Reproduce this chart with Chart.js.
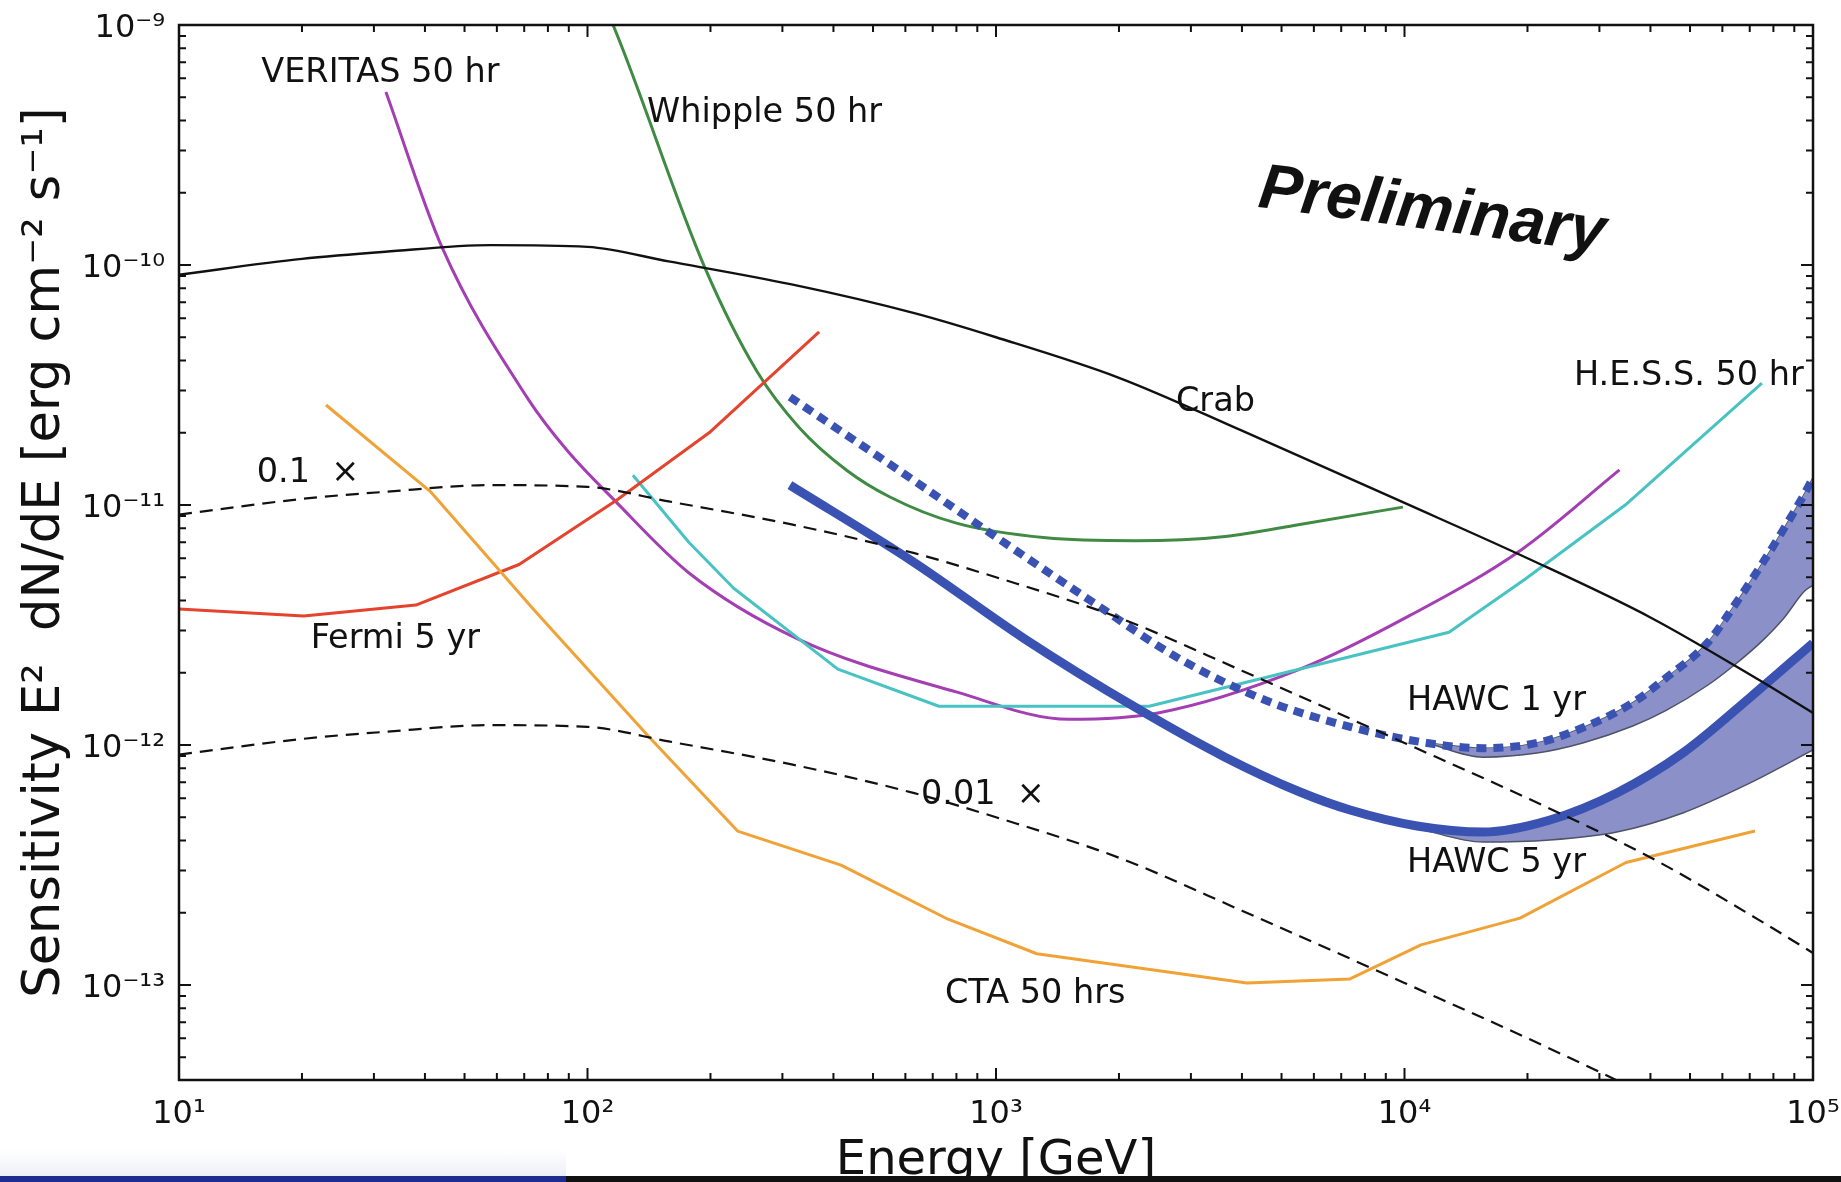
<!DOCTYPE html>
<html>
<head>
<meta charset="utf-8">
<title>HAWC sensitivity</title>
<script src="https://cdn.jsdelivr.net/npm/chart.js@4.4.1/dist/chart.umd.min.js"></script>
<style>
  html, body { margin: 0; padding: 0; background: #fff; overflow: hidden; }
  #wrap { position: relative; width: 1841px; height: 1182px; }
  #fade { position: absolute; left: 0; top: 1150px; width: 566px; height: 26px; background: linear-gradient(#fff, #eef0f7); }
  #barLeft { position: absolute; left: 0; top: 1176px; width: 566px; height: 6px; background: #1c2d8f; }
  #barRight { position: absolute; left: 566px; top: 1176px; width: 1275px; height: 6px; background: #111; }
</style>
</head>
<body>
<div id="wrap">
  <canvas id="sens" width="1841" height="1182"></canvas>
  <div id="fade"></div>
  <div id="barLeft"></div>
  <div id="barRight"></div>
</div>
<script>
// axis decades (powers of ten) and minor steps
const xDecades = [1, 2, 3, 4, 5];
const yDecades = [-14, -13, -12, -11, -10, -9];
const minorSteps = [1, 2, 3, 4, 5, 6, 7, 8, 9];

// Crab and the scaled crab curves (energy in GeV, E^2 dN/dE in erg cm^-2 s^-1)
const crabE = [10, 20, 32, 58, 100, 158, 316, 631, 1000, 2000, 4000, 10000, 20000, 40000, 74000, 100000];
const crabS = [9.12e-11, 1.06e-10, 1.135e-10, 1.21e-10, 1.19e-10, 1.035e-10, 8.3e-11, 6.3e-11, 5.0e-11, 3.39e-11, 2.04e-11, 1.02e-11, 6.0e-12, 3.4e-12, 1.86e-12, 1.36e-12];
const tenthS = [9.12e-12, 1.06e-11, 1.135e-11, 1.21e-11, 1.19e-11, 1.035e-11, 8.3e-12, 6.3e-12, 5.0e-12, 3.39e-12, 2.04e-12, 1.02e-12, 6.0e-13, 3.4e-13, 1.86e-13, 1.36e-13];
const hundredthS = [9.12e-13, 1.06e-12, 1.135e-12, 1.21e-12, 1.19e-12, 1.035e-12, 8.3e-13, 6.3e-13, 5.0e-13, 3.39e-13, 2.04e-13, 1.02e-13, 6.0e-14, 3.4e-14, 1.86e-14, 1.36e-14];

// Whipple 50 hr
const whippleE = [112, 115.5, 194, 260, 330, 430, 550, 800, 1325, 2200, 3640, 5540, 9910];
const whippleS = [1.12e-9, 1.0e-9, 9.7e-11, 3.6e-11, 2.1e-11, 1.4e-11, 1.08e-11, 8.4e-12, 7.3e-12, 7.1e-12, 7.4e-12, 8.3e-12, 9.8e-12];

// VERITAS 50 hr
const veritasE = [32.1, 44, 71.5, 89.1, 116.8, 177.2, 323.9, 802.7, 1509, 2493, 5549, 10260, 19300, 33600];
const veritasS = [5.26e-10, 1.19e-10, 2.77e-11, 1.69e-11, 1.04e-11, 5.21e-12, 2.79e-12, 1.66e-12, 1.28e-12, 1.36e-12, 2.07e-12, 3.45e-12, 6.5e-12, 1.40e-11];

// H.E.S.S. 50 hr
const hessE = [129.2, 177, 228, 410, 725, 2370, 12850, 19800, 34700, 75000];
const hessS = [1.33e-11, 7.0e-12, 4.5e-12, 2.07e-12, 1.45e-12, 1.45e-12, 2.95e-12, 4.93e-12, 1.0e-11, 3.22e-11];

// Fermi 5 yr
const fermiE = [10, 20.2, 38, 68, 118, 200, 369];
const fermiS = [3.69e-12, 3.45e-12, 3.83e-12, 5.65e-12, 1.05e-11, 2.02e-11, 5.26e-11];

// CTA 50 hrs
const ctaE = [22.9, 41.2, 74, 141.5, 233, 417.5, 763, 1259, 4113, 7355, 10976, 19180, 34850, 72100];
const ctaS = [2.61e-11, 1.14e-11, 3.65e-12, 1.08e-12, 4.38e-13, 3.16e-13, 1.88e-13, 1.35e-13, 1.02e-13, 1.06e-13, 1.47e-13, 1.9e-13, 3.24e-13, 4.38e-13];

// HAWC 1 yr (dashed) and its band
const hawc1E = [313, 623, 1034, 1709, 2821, 4554, 7355, 11350, 15560, 21100, 27300, 36200, 43600, 55100, 64100, 75000, 84500, 95500, 100000];
const hawc1S = [2.82e-11, 1.28e-11, 7.08e-12, 3.98e-12, 2.28e-12, 1.54e-12, 1.19e-12, 1.02e-12, 9.7e-13, 1.02e-12, 1.18e-12, 1.5e-12, 1.9e-12, 2.66e-12, 3.8e-12, 5.68e-12, 7.87e-12, 1.12e-11, 1.3e-11];
const hawc1BandE = [11350, 15560, 21100, 27300, 36200, 43600, 55100, 64100, 75000, 84500, 95500, 100000];
const hawc1BandHigh = [1.02e-12, 9.7e-13, 1.02e-12, 1.18e-12, 1.5e-12, 1.9e-12, 2.66e-12, 3.8e-12, 5.68e-12, 7.87e-12, 1.12e-11, 1.3e-11];
const hawc1BandLow = [1.02e-12, 8.9e-13, 9.26e-13, 1.02e-12, 1.2e-12, 1.39e-12, 1.77e-12, 2.15e-12, 2.71e-12, 3.35e-12, 4.39e-12, 4.64e-12];

// HAWC 5 yr (solid) and its band
const hawc5E = [313, 625, 1171, 2201, 3636, 5549, 7360, 10730, 15560, 22700, 33100, 48000, 70200, 100000];
const hawc5S = [1.21e-11, 5.82e-12, 2.78e-12, 1.43e-12, 8.9e-13, 6.37e-13, 5.36e-13, 4.6e-13, 4.34e-13, 4.87e-13, 6.31e-13, 9.26e-13, 1.58e-12, 2.66e-12];
const hawc5BandE = [10730, 15560, 22700, 33100, 48000, 70200, 100000];
const hawc5BandHigh = [4.6e-13, 4.34e-13, 4.87e-13, 6.31e-13, 9.26e-13, 1.58e-12, 2.66e-12];
const hawc5BandLow = [4.5e-13, 3.94e-13, 4.02e-13, 4.34e-13, 5.21e-13, 6.95e-13, 9.53e-13];

// text annotations, anchored at (energy, sensitivity) = left end of the baseline
const noteTexts = ['VERITAS 50 hr', 'Whipple 50 hr', 'Crab', 'H.E.S.S. 50 hr', '0.1  ×', 'Fermi 5 yr', 'HAWC 1 yr', 'HAWC 5 yr', '0.01  ×', 'CTA 50 hrs'];
const noteE = [15.9, 139.9, 2758, 26000, 15.5, 21.0, 10140, 10140, 655, 750];
const noteS = [5.79e-10, 3.94e-10, 2.47e-11, 3.16e-11, 1.25e-11, 2.54e-12, 1.40e-12, 2.96e-13, 5.68e-13, 8.4e-14];

const SUP = { '-': '⁻', '0': '⁰', '1': '¹', '2': '²', '3': '³', '4': '⁴', '5': '⁵', '6': '⁶', '7': '⁷', '8': '⁸', '9': '⁹' };

function decadeOf(v) {
    const e = Math.log10(v);
    const r = Math.round(e);
    return Math.abs(e - r) < 1e-6 ? r : null;
}

function powerLabel(v) {
    const e = decadeOf(v);
    if (e === null) return '';
    return '10' + String(e).split('').map(c => SUP[c]).join('');
}

function logTicks(decades, lo, hi) {
    const out = [];
    decades.forEach(d => minorSteps.forEach(m => {
        const v = m * Math.pow(10, d);
        if (v >= lo * 0.999 && v <= hi * 1.001) out.push({ value: v });
    }));
    return out;
}

function points(xs, ys) {
    return xs.map((x, i) => ({ x: x, y: ys[i] }));
}

/** one line dataset, smooth curves use monotone interpolation in log-log pixel space */
function curve(label, xs, ys, color, width, order, extra) {
    return Object.assign({
        label: label,
        data: points(xs, ys),
        borderColor: color,
        borderWidth: width,
        pointRadius: 0,
        fill: false,
        tension: 0,
        order: order,
        borderJoinStyle: 'round'
    }, extra || {});
}

const smooth = { cubicInterpolationMode: 'monotone' };
const bandFill = '#8b90c8';
const bandEdge = '#4e5366';
const hawcBlue = '#3a52b2';

const datasets = [
    curve('HAWC 1 yr band top', hawc1BandE, hawc1BandHigh, bandEdge, 1.5, 30, smooth),
    curve('HAWC 1 yr band', hawc1BandE, hawc1BandLow, bandEdge, 1.5, 29, Object.assign({ fill: '-1', backgroundColor: bandFill }, smooth)),
    curve('HAWC 5 yr band top', hawc5BandE, hawc5BandHigh, 'rgba(0,0,0,0)', 1, 28, smooth),
    curve('HAWC 5 yr band', hawc5BandE, hawc5BandLow, bandEdge, 1.5, 27, Object.assign({ fill: '-1', backgroundColor: bandFill }, smooth)),
    curve('Whipple 50 hr', whippleE, whippleS, '#3f8b43', 3, 20, smooth),
    curve('VERITAS 50 hr', veritasE, veritasS, '#a33eb3', 3, 19, smooth),
    curve('H.E.S.S. 50 hr', hessE, hessS, '#48c2c2', 3, 18),
    curve('Fermi 5 yr', fermiE, fermiS, '#e4432d', 3, 17),
    curve('CTA 50 hrs', ctaE, ctaS, '#f0a236', 3, 16),
    curve('HAWC 1 yr', hawc1E, hawc1S, hawcBlue, 8, 10, Object.assign({ borderDash: [10, 7], borderCapStyle: 'butt' }, smooth)),
    curve('HAWC 5 yr', hawc5E, hawc5S, hawcBlue, 9, 9, smooth),
    curve('0.01 x Crab', crabE, hundredthS, '#111', 2.2, 3, Object.assign({ borderDash: [13, 8] }, smooth)),
    curve('0.1 x Crab', crabE, tenthS, '#111', 2.2, 2, Object.assign({ borderDash: [13, 8] }, smooth)),
    curve('Crab', crabE, crabS, '#111', 2.4, 1, smooth)
];

/** frame on all four sides, inward matplotlib-style ticks, and the text notes */
const framePlugin = {
    id: 'frame',
    afterDatasetsDraw(chart) {
        const { ctx, chartArea: a, scales: { x, y } } = chart;
        ctx.save();
        ctx.strokeStyle = '#111';
        ctx.lineWidth = 2;
        ctx.beginPath();
        x.ticks.forEach(t => {
            const px = x.getPixelForValue(t.value);
            const len = decadeOf(t.value) === null ? 7 : 12;
            ctx.moveTo(px, a.bottom); ctx.lineTo(px, a.bottom - len);
            ctx.moveTo(px, a.top); ctx.lineTo(px, a.top + len);
        });
        y.ticks.forEach(t => {
            const py = y.getPixelForValue(t.value);
            const len = decadeOf(t.value) === null ? 7 : 12;
            ctx.moveTo(a.left, py); ctx.lineTo(a.left + len, py);
            ctx.moveTo(a.right, py); ctx.lineTo(a.right - len, py);
        });
        ctx.stroke();
        ctx.lineWidth = 2.5;
        ctx.strokeRect(a.left, a.top, a.right - a.left, a.bottom - a.top);

        ctx.fillStyle = '#111';
        ctx.font = '33.5px "DejaVu Sans"';
        ctx.textAlign = 'left';
        ctx.textBaseline = 'alphabetic';
        noteTexts.forEach((txt, i) => {
            ctx.fillText(txt, x.getPixelForValue(noteE[i]), y.getPixelForValue(noteS[i]));
        });

        // "Preliminary" stamp
        ctx.translate(x.getPixelForValue(4355), y.getPixelForValue(1.75e-10));
        ctx.rotate(7.5 * Math.PI / 180);
        ctx.font = 'italic bold 64px "Liberation Sans"';
        ctx.fillText('Preliminary', 0, 0);
        ctx.restore();
    }
};

Chart.defaults.font.family = '"DejaVu Sans"';
Chart.defaults.color = '#111';

// invisible tick marks only give the label offset, the real ticks come from framePlugin
const hiddenGrid = (len) => ({ display: true, drawOnChartArea: false, drawTicks: true, tickLength: len, color: 'rgba(0,0,0,0)' });

new Chart(document.getElementById('sens'), {
    type: 'line',
    data: { datasets: datasets },
    options: {
        responsive: false,
        animation: false,
        events: [],
        layout: { padding: { top: 25, right: 28, bottom: 0, left: 0 } },
        plugins: { legend: { display: false }, tooltip: { enabled: false } },
        scales: {
            x: {
                type: 'logarithmic',
                min: 10,
                max: 1e5,
                grid: hiddenGrid(15),
                border: { display: false },
                afterBuildTicks: s => { s.ticks = logTicks(xDecades, 10, 1e5); },
                afterFit: s => { s.height = 102; },
                ticks: {
                    autoSkip: false,
                    maxRotation: 0,
                    minRotation: 0,
                    padding: 0,
                    color: '#111',
                    font: { size: 32 },
                    callback: v => powerLabel(v)
                },
                title: {
                    display: true,
                    text: 'Energy [GeV]',
                    color: '#111',
                    font: { size: 48 },
                    padding: { top: 0, bottom: -8 }
                }
            },
            y: {
                type: 'logarithmic',
                min: 4.02e-14,
                max: 1e-9,
                grid: hiddenGrid(14),
                border: { display: false },
                afterBuildTicks: s => { s.ticks = logTicks(yDecades, 4.02e-14, 1e-9); },
                afterFit: s => { s.width = 179; },
                ticks: {
                    autoSkip: false,
                    padding: 0,
                    labelOffset: 4,
                    color: '#111',
                    font: { size: 32 },
                    callback: v => powerLabel(v)
                },
                title: {
                    display: true,
                    text: 'Sensitivity E²  dN/dE [erg cm⁻² s⁻¹]',
                    color: '#111',
                    font: { size: 51 },
                    padding: { top: 15, bottom: 0 }
                }
            }
        }
    },
    plugins: [framePlugin]
});
</script>
</body>
</html>
